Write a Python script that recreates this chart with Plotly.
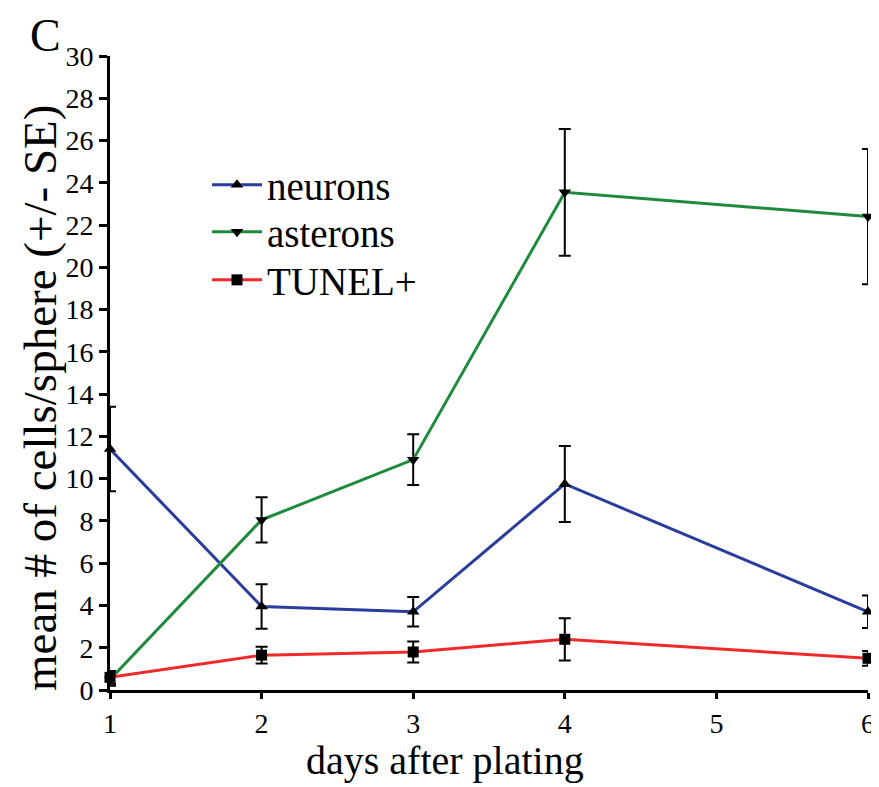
import plotly.graph_objects as go

days = [1, 2, 3, 4, 6]
neurons = [11.4, 3.95, 3.7, 9.75, 3.7]
neurons_se = [2.0, 1.05, 0.7, 1.8, 0.77]
asterons = [0.5, 8.05, 10.9, 23.55, 22.4]
asterons_se = [0.3, 1.07, 1.2, 3.0, 3.2]
tunel = [0.6, 1.65, 1.8, 2.4, 1.5]
tunel_se = [0.3, 0.4, 0.5, 1.0, 0.35]

x_ticks = [1, 2, 3, 4, 5, 6]
y_ticks = list(range(0, 31, 2))

FONT = "Liberation Serif"

OFF = 8  # default page body margin
W, H = 879 - OFF, 787 - OFF
L, R, T, B = 110 - OFF, 868 - OFF, 56 - OFF, 690 - OFF
pw, ph = R - L, B - T

def px(x):
    return (x - OFF - L) / pw

def py(y):
    return (B - (y - OFF)) / ph

fig = go.Figure()

def add(name, y, se, color, symbol, legend):
    fig.add_trace(go.Scatter(
        x=days, y=y, name=name, mode="lines+markers",
        line=dict(color=color, width=3),
        marker=dict(color="black", symbol=symbol, size=11),
        error_y=dict(type="data", array=se, visible=True, color="black",
                     thickness=2, width=6),
        cliponaxis=False, legend=legend,
    ))

add("neurons", neurons, neurons_se, "#2a3c9c", "triangle-up", "legend")
add("asterons", asterons, asterons_se, "#1e8a3c", "triangle-down", "legend2")
add("TUNEL+", tunel, tunel_se, "#f02a2a", "square", "legend3")

def leg(yc):
    return dict(x=px(207), y=py(yc), xanchor="left", yanchor="middle",
                font=dict(size=39, family=FONT), bgcolor="rgba(0,0,0,0)",
                itemwidth=50, borderwidth=0)

fig.update_layout(
    width=W, height=H,
    margin=dict(l=L, r=W - R, t=T, b=H - B, autoexpand=False),
    paper_bgcolor="white", plot_bgcolor="white",
    font=dict(family=FONT, color="black"),
    showlegend=True,
    legend=leg(185), legend2=leg(232), legend3=leg(280),
    xaxis=dict(range=[1, 6], tickvals=x_ticks, showgrid=False, zeroline=False,
               automargin=False,
               showline=True, linecolor="black", linewidth=3,
               ticks="outside", ticklen=6, tickwidth=3, tickcolor="black",
               tickfont=dict(size=28, family=FONT)),
    yaxis=dict(range=[0, 30], tickvals=y_ticks, showgrid=False, zeroline=False,
               automargin=False,
               showline=True, linecolor="black", linewidth=3,
               ticks="outside", ticklen=8, tickwidth=3, tickcolor="black",
               tickfont=dict(size=28, family=FONT)),
    annotations=[
        dict(text="C", x=px(45), y=py(36), xref="paper", yref="paper",
             showarrow=False, xanchor="center", yanchor="middle",
             font=dict(size=46, family=FONT)),
        dict(text="days after plating", x=px(445), y=py(760), xref="paper", yref="paper",
             showarrow=False, xanchor="center", yanchor="middle",
             font=dict(size=40, family=FONT)),
        dict(text="mean # of cells/sphere (+/- SE)", x=px(40), y=py(398), xref="paper", yref="paper",
             showarrow=False, xanchor="center", yanchor="middle", textangle=-90,
             font=dict(size=47, family=FONT)),
    ],
)

fig.write_html("out.html")
